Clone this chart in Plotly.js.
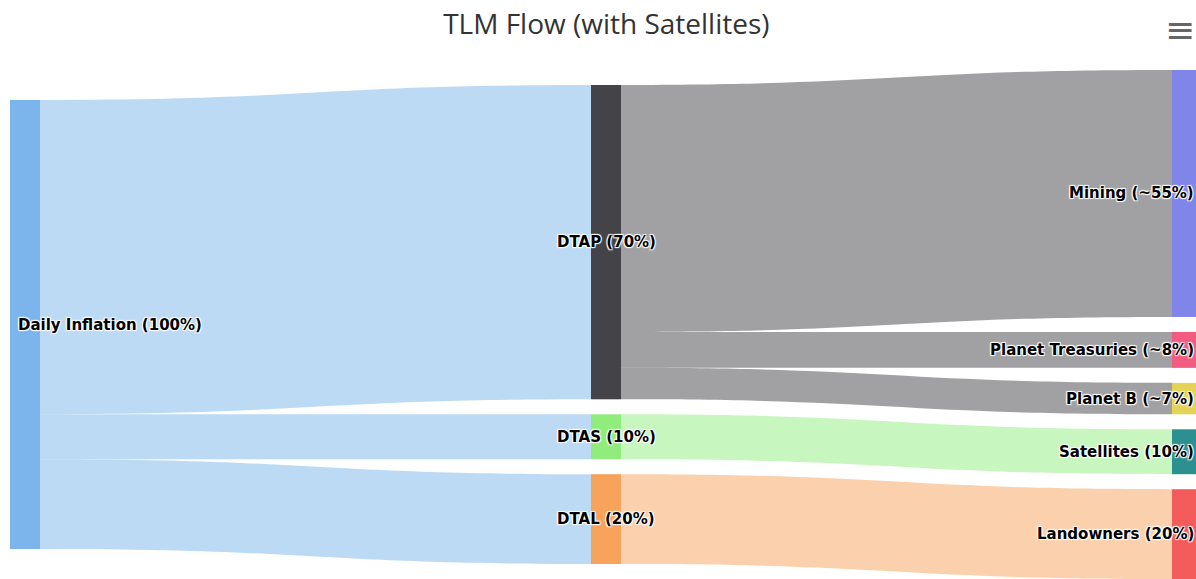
<!DOCTYPE html>
<html>
<head>
<meta charset="utf-8">
<script src="https://cdn.plot.ly/plotly-3.0.1.min.js"></script>
<style>html,body{margin:0;padding:0;background:#fff;}#chart{width:1196px;height:579px;}</style>
</head>
<body>
<div id="chart"></div>
<script>
const nodeLabels = [
  "Daily Inflation (100%)",
  "DTAP (70%)",
  "DTAS (10%)",
  "DTAL (20%)",
  "Mining (~55%)",
  "Planet Treasuries (~8%)",
  "Planet B (~7%)",
  "Satellites (10%)",
  "Landowners (20%)"
];
const nodeColors = ["#7cb5ec", "#434348", "#90ed7d", "#f7a35c", "#8085e9", "#f15c80", "#e4d354", "#2b908f", "#f45b5b"];
const linkSource = [0, 0, 0, 1, 1, 1, 2, 3];
const linkTarget = [1, 2, 3, 4, 5, 6, 7, 8];
const linkValues = [70, 10, 20, 55, 8, 7, 10, 20];
const linkColors = [
  "rgba(124,181,236,0.5)", "rgba(124,181,236,0.5)", "rgba(124,181,236,0.5)",
  "rgba(67,67,72,0.5)", "rgba(67,67,72,0.5)", "rgba(67,67,72,0.5)",
  "rgba(144,237,125,0.5)",
  "rgba(247,163,92,0.5)"
];

// ---- layout settings ----
const W = 1196, Hpx = 579;
const margin = {l: 25, r: 9, t: 70, b: 0};
const pad = 15;
const plotH = Hpx - margin.t - margin.b;

// ---- compute column (depth) and value of each node from the links ----
const n = nodeLabels.length;
const depth = new Array(n).fill(0);
for (let iter = 0; iter < n; iter++) {
  linkSource.forEach((s, i) => {
    const t = linkTarget[i];
    if (depth[t] < depth[s] + 1) depth[t] = depth[s] + 1;
  });
}
const inSum = new Array(n).fill(0), outSum = new Array(n).fill(0);
linkValues.forEach((v, i) => { outSum[linkSource[i]] += v; inSum[linkTarget[i]] += v; });
const nodeVal = inSum.map((v, i) => Math.max(v, outSum[i]));
const maxDepth = Math.max(...depth);
const columns = [];
for (let d = 0; d <= maxDepth; d++) columns.push([]);
for (let i = 0; i < n; i++) columns[depth[i]].push(i);

// same scale rule that the sankey uses: tightest column fills the height
const ky = Math.min(...columns.map(c => (plotH - (c.length - 1) * pad) / c.reduce((a, i) => a + nodeVal[i], 0)));

// centre every column vertically (stacked with pad)
const nodeX = new Array(n), nodeY = new Array(n);
columns.forEach((c, d) => {
  const total = c.reduce((a, i) => a + nodeVal[i] * ky, 0) + (c.length - 1) * pad;
  let cursor = (plotH - total) / 2;
  c.forEach(i => {
    const h = nodeVal[i] * ky;
    nodeY[i] = (cursor + h / 2) / plotH;
    nodeX[i] = Math.max(d / maxDepth, 1e-9);
    cursor += h + pad;
  });
});

const trace = {
  type: "sankey",
  orientation: "h",
  arrangement: "fixed",
  domain: {x: [0, 1], y: [0, 1]},
  node: {
    label: nodeLabels.map(() => ""),
    customdata: nodeLabels,
    hovertemplate: "%{customdata}<extra></extra>",
    color: nodeColors,
    thickness: 30,
    pad: pad,
    line: {width: 0},
    x: nodeX,
    y: nodeY
  },
  link: {
    source: linkSource,
    target: linkTarget,
    value: linkValues,
    color: linkColors
  }
};

// node labels: centred on the node, pushed inside the plot at the outer columns
const labelFont = {
  family: "DejaVu Sans", size: 15, color: "#000", weight: 700,
  shadow: "1px 1px 1px #fff, -1px -1px 1px #fff, 1px -1px 1px #fff, -1px 1px 1px #fff"
};
const annotations = nodeLabels.map((txt, i) => {
  const d = depth[i];
  const a = {
    text: txt,
    xref: "paper", yref: "paper",
    x: d / maxDepth,
    y: 1 - nodeY[i],
    yanchor: "middle",
    showarrow: false,
    font: labelFont
  };
  if (d === 0) { a.xanchor = "left"; a.xshift = -9; }
  else if (d === maxDepth) { a.xanchor = "right"; a.xshift = 9; }
  else { a.xanchor = "center"; }
  return a;
});
annotations.push({
  text: "≡",
  xref: "paper", yref: "paper",
  x: 1.0, y: 1.0, yshift: 41, xshift: 10,
  xanchor: "right", yanchor: "middle",
  showarrow: false,
  font: {family: "DejaVu Sans", size: 36, color: "#666"}
});

const layout = {
  width: W,
  height: Hpx,
  margin: margin,
  paper_bgcolor: "#fff",
  title: {
    text: "TLM Flow (with Satellites)",
    x: 0.507,
    xanchor: "center",
    y: 0.958,
    yanchor: "middle",
    font: {family: "Open Sans", size: 28, color: "#333"}
  },
  annotations: annotations,
  showlegend: false
};

Plotly.newPlot("chart", [trace], layout, {displayModeBar: false});
</script>
</body>
</html>
